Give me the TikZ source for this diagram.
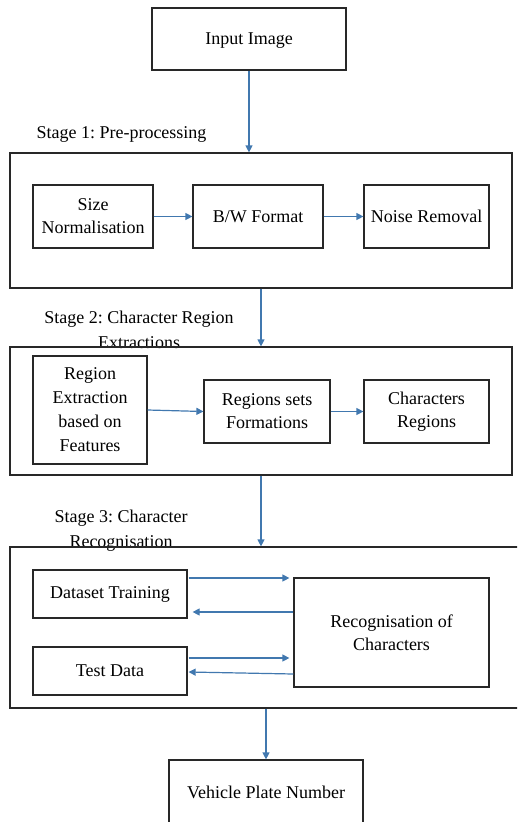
\documentclass[tikz,border=0pt]{standalone}
\usepackage{fontspec}
\setmainfont{Liberation Serif}
\frenchspacing
\usetikzlibrary{arrows.meta,calc}
\definecolor{arrowblue}{RGB}{65,120,175}
\definecolor{lineblk}{RGB}{40,40,40}
\begin{document}
\begin{tikzpicture}[x=1pt,y=-1pt,
  box/.style={draw=lineblk, line width=1.2pt, inner sep=0pt, align=center, font=\fontsize{18}{23}\selectfont},
  stagebox/.style={draw=lineblk, line width=1.2pt, inner sep=0pt},
  lab/.style={inner sep=0pt, align=center, font=\fontsize{18}{24.5}\selectfont},
  arr/.style={draw=arrowblue, line width=1.2pt, -{Triangle[length=7pt,width=7pt]}}]
\clip (0,0) rectangle (517,822);
\useasboundingbox (0,0) rectangle (517,822);
% labels (drawn first so box lines pass over them)
\node[lab] (l1) at (121.5,134) {Stage 1: Pre-processing};
\node[lab] (l2) at (139,330) {Stage 2: Character Region\\Extractions};
\node[lab] (l3) at (121,530.5) {Stage 3: Character\\Recognisation};
% top
\node[box, minimum width=194pt, minimum height=62pt, text depth=-3pt] (inp) at (249,39) {Input Image};
% stage 1
\node[stagebox, minimum width=502pt, minimum height=135pt] (s1) at (261,220.5) {};
\node[box, minimum width=120pt, minimum height=63pt] (size) at (93,216.5) {Size\\Normalisation};
\node[box, minimum width=130pt, minimum height=63pt] (bw) at (258,216.5) {B/W Format};
\node[box, minimum width=125pt, minimum height=63pt] (noise) at (426.5,216.5) {Noise Removal};
% stage 2
\node[stagebox, minimum width=502pt, minimum height=128pt] (s2) at (261,411) {};
\node[box, font=\fontsize{18}{24}\selectfont, minimum width=114pt, minimum height=108pt] (rext) at (90,410) {Region\\Extraction\\based on\\Features};
\node[box, minimum width=126pt, minimum height=63pt] (rsets) at (267,411.5) {Regions sets\\Formations};
\node[box, minimum width=125pt, minimum height=63pt] (chreg) at (426.5,411.5) {Characters\\Regions};
% stage 3
\node[stagebox, minimum width=530pt, minimum height=161pt] (s3) at (275,627.5) {};
\node[box, minimum width=154pt, minimum height=48pt] (dt) at (110,594) {Dataset Training};
\node[box, minimum width=154pt, minimum height=48pt] (td) at (110,671) {Test Data};
\node[box, minimum width=195pt, minimum height=109pt] (rec) at (391.5,632.5) {Recognisation of\\Characters};
% output
\node[box, minimum width=194pt, minimum height=64pt] (veh) at (266,792) {Vehicle Plate Number};
% connectors
\draw[arr] (inp.south) -- (inp.south |- s1.north);
\draw[arr] (size.east) -- (bw.west);
\draw[arr] (bw.east) -- (noise.west);
\draw[arr] (s1.south) -- (s2.north);
\draw[arr] (rext.east) -- (rsets.west);
\draw[arr] (rsets.east) -- (chreg.west);
\draw[arr] (s2.south) -- (s2.south |- s3.north);
\draw[arr] ($(dt.east)+(1,-16)$) -- ($(rec.west)+(-4,-54.5)$);
\draw[arr] ($(rec.west)+(0,-20.5)$) -- ($(dt.east)+(5,18)$);
\draw[arr] ($(td.east)+(1,-13)$) -- ($(rec.west)+(-4,25.5)$);
\draw[arr] ($(rec.west)+(0,41.5)$) -- ($(td.east)+(1,1)$);
\draw[arr] (veh.north |- s3.south) -- (veh.north);
\end{tikzpicture}
\end{document}
